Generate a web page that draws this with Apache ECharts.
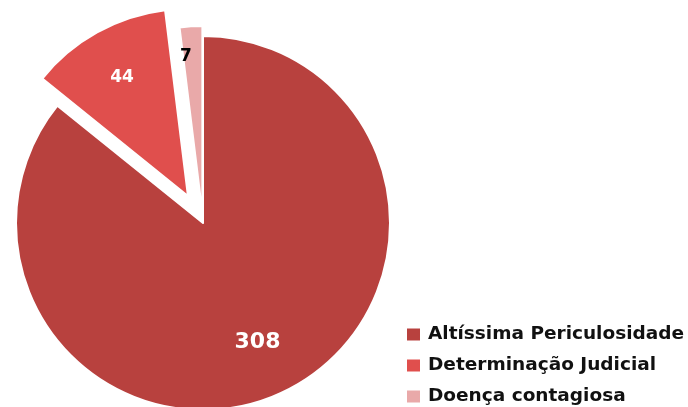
<!DOCTYPE html>
<html>
<head>
<meta charset="utf-8">
<script src="https://cdn.jsdelivr.net/npm/echarts@6/dist/echarts.min.js"></script>
<style>
  html, body { margin: 0; padding: 0; background: #fff; }
  #chart { width: 688px; height: 407px; }
</style>
</head>
<body>
<div id="chart"></div>
<script>
// Categories and counts for the pie
const categories = ['Altíssima Periculosidade', 'Determinação Judicial', 'Doença contagiosa'];
const values = [308, 44, 7];
const colors = ['#B8413E', '#E04F4D', '#E9A9A9'];
const labelColors = ['#ffffff', '#ffffff', '#000000'];
const labelSizes = [22, 17, 17];

const CENTER = [203, 223];
const R = 187;

// Which slices are pulled out of the pie, and by which series
const explodedWide = [false, true, false];   // pulled out far
const explodedNarrow = [false, false, true]; // pulled out a little

const hidden = { color: 'transparent', borderColor: 'transparent', borderWidth: 0 };

function sectorData(visibleIdx, explodedFlags) {
  return categories.map((name, i) => ({
    name: name,
    value: values[i],
    selected: explodedFlags[i],
    itemStyle: visibleIdx.includes(i)
      ? { color: colors[i], borderColor: '#ffffff', borderWidth: 2 }
      : hidden
  }));
}

const common = {
  type: 'pie',
  center: CENTER,
  startAngle: 90,
  clockwise: true,
  selectedMode: 'multiple',
  avoidLabelOverlap: false,
  emphasis: { disabled: true },
  select: { disabled: false },
  labelLine: { show: false }
};

const chart = echarts.init(document.getElementById('chart'), null, { renderer: 'canvas' });

chart.setOption({
  animation: false,
  backgroundColor: '#ffffff',
  legend: {
    orient: 'vertical',
    left: 407,
    top: 325,
    height: 200,
    padding: 0,
    itemWidth: 13,
    itemHeight: 12,
    itemGap: 12,
    icon: 'rect',
    selectedMode: false,
    textStyle: {
      fontFamily: 'DejaVu Sans',
      fontWeight: 'bold',
      fontSize: 18.5,
      lineHeight: 18,
      color: '#111111',
      padding: [0, 0, 0, 3]
    },
    data: categories.map((name, i) => ({
      name: name,
      itemStyle: { color: colors[i], opacity: 1, borderWidth: 0 }
    }))
  },
  series: [
    // Large slice and the far-pulled slice
    Object.assign({}, common, {
      name: 'fatias',
      radius: [0, R],
      selectedOffset: 31,
      label: { show: false },
      data: sectorData([0, 1], explodedWide)
    }),
    // Small slice, pulled out a little
    Object.assign({}, common, {
      name: 'fatia-pequena',
      radius: [0, R],
      selectedOffset: 10,
      label: { show: false },
      data: sectorData([2], explodedNarrow)
    }),
    // Value labels, placed along each slice's middle ray
    Object.assign({}, common, {
      name: 'rotulos',
      radius: [78, R],
      selectedOffset: 31,
      silent: true,
      labelLayout: function (p) {
        return p.dataIndex === 2 ? { dx: -7 } : (p.dataIndex === 0 ? { dx: -4, dy: -3 } : {});
      },
      data: categories.map((name, i) => ({
        name: name,
        value: values[i],
        selected: i > 0,
        itemStyle: hidden,
        label: {
          show: true,
          position: 'inside',
          formatter: String(values[i]),
          color: labelColors[i],
          fontFamily: 'DejaVu Sans',
          fontWeight: 'bold',
          fontSize: labelSizes[i]
        }
      }))
    })
  ]
});
</script>
</body>
</html>
